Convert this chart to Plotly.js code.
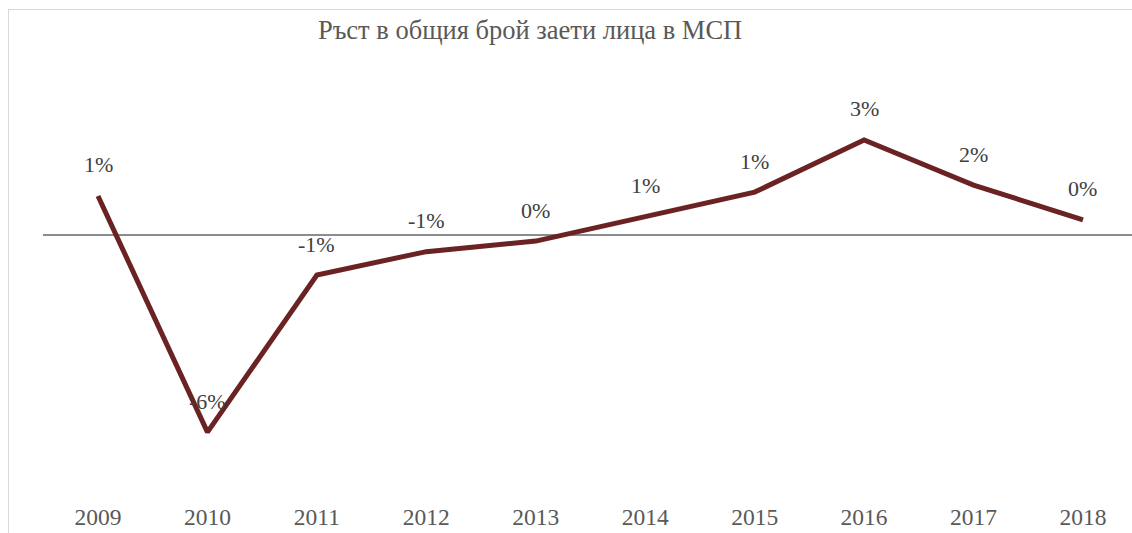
<!DOCTYPE html>
<html>
<head>
<meta charset="utf-8">
<script src="https://cdn.plot.ly/plotly-3.0.1.min.js"></script>
<style>
  html, body { margin: 0; padding: 0; overflow: hidden; background: #fff; }
  #frame {
    position: absolute; left: 8px; top: 9px;
    border-left: 1px solid #d9d9d9; border-top: 1px solid #d9d9d9;
  }
  #chart { width: 1123px; height: 530px; }
</style>
</head>
<body>
<div id="frame"><div id="chart"></div></div>
<script>
// years and employment growth (%)
const years = ["2009", "2010", "2011", "2012", "2013", "2014", "2015", "2016", "2017", "2018"];
const growth = [1.22, -6.16, -1.25, -0.52, -0.19, 0.59, 1.34, 2.97, 1.56, 0.47];

const chartTitle = "Ръст в общия брой заети лица в МСП";
const serif = "Liberation Serif, Times New Roman, serif";

// labels above each point, rounded like the original
const pointLabels = growth.map(v => {
  const r = Math.round(v);
  return (r === 0 ? 0 : r) + "%";
});

const data = [
  {
    x: years,
    y: growth,
    type: "scatter",
    mode: "lines",
    line: { color: "#6b2222", width: 5 },
    hoverinfo: "skip"
  }
];

// category index for the annotations, the year strings look numeric
const annotations = years.map((yr, i) => ({
  x: i,
  y: growth[i],
  xref: "x",
  yref: "y",
  text: pointLabels[i],
  showarrow: false,
  yshift: 31,
  font: { family: serif, size: 22, color: "#404040" }
}));

const layout = {
  width: 1123,
  height: 530,
  margin: { l: 34, r: 0, t: 40, b: 40 },
  paper_bgcolor: "#fff",
  plot_bgcolor: "#fff",
  showlegend: false,
  title: {
    text: chartTitle,
    font: { family: serif, size: 26.5, color: "#595959" },
    xref: "container", x: 0.464, xanchor: "center",
    yref: "container", y: 0.962, yanchor: "middle"
  },
  xaxis: {
    type: "category",
    range: [-0.5026, 9.448],
    showgrid: false,
    showline: false,
    zeroline: false,
    ticks: "",
    tickfont: { family: serif, size: 23.5, color: "#595959" }
  },
  yaxis: {
    range: [-8.28, 5.78],
    showgrid: false,
    showticklabels: false,
    ticks: "",
    showline: false,
    zeroline: true,
    zerolinecolor: "#8c8c8c",
    zerolinewidth: 2
  },
  annotations: annotations
};

Plotly.newPlot("chart", data, layout, { displayModeBar: false, staticPlot: true });
</script>
</body>
</html>
